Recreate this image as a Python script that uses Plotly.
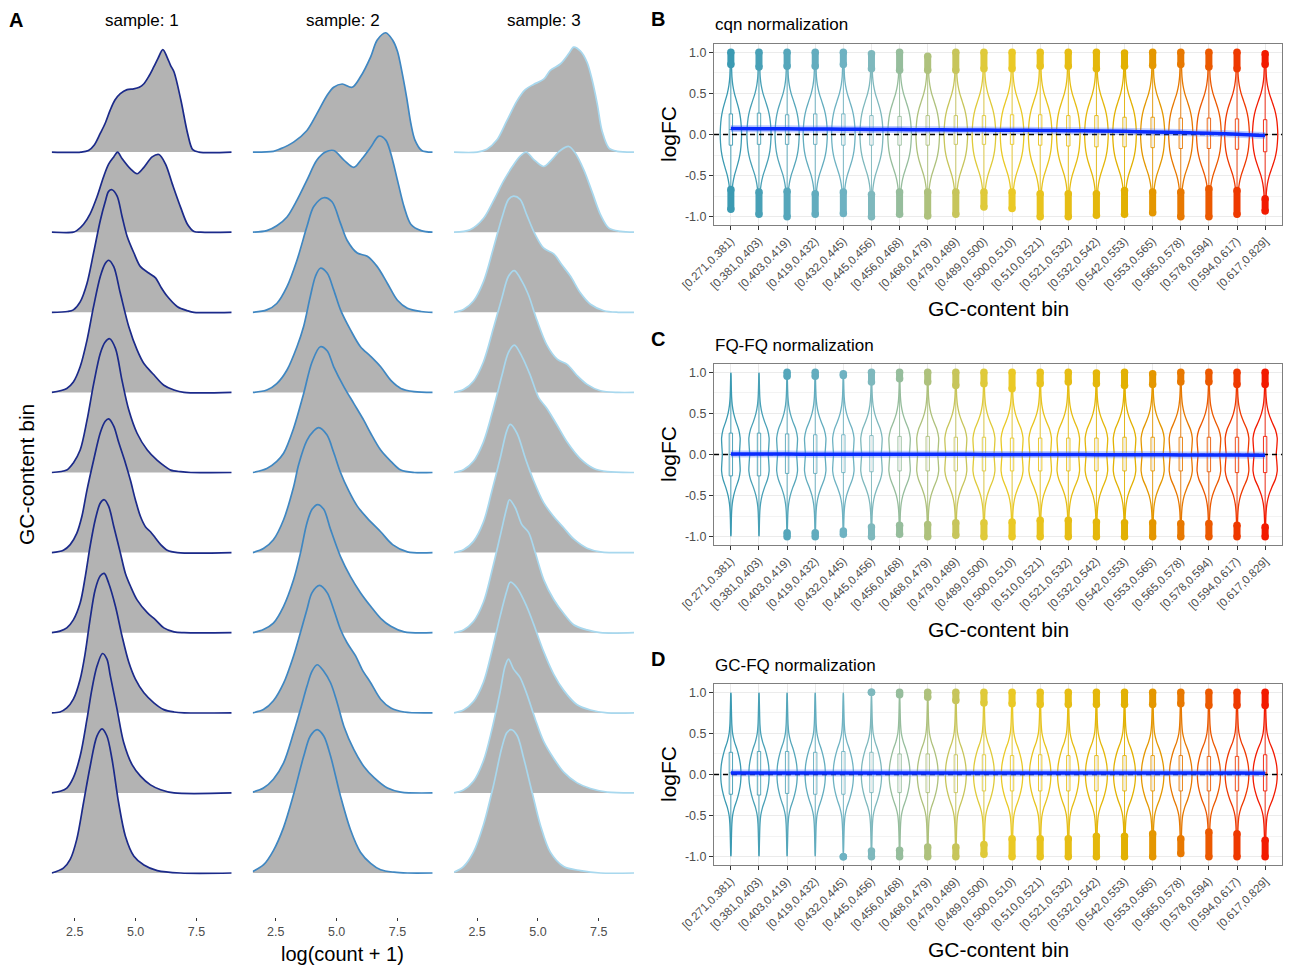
import numpy as np
import plotly.graph_objects as go

PAGE_OFF = 8                      # browser body margin
FIG_W, FIG_H = 1300 - PAGE_OFF, 967 - PAGE_OFF
FONT = "Liberation Sans, Arial, Helvetica, sans-serif"


def fx(px):
    return (px - PAGE_OFF) / FIG_W


def fy(py):
    return 1 - (py - PAGE_OFF) / FIG_H


# ---------------------------------------------------------------- Panel A data
A_SAMPLES = ["sample: 1", "sample: 2", "sample: 3"]
A_LINE_COLORS = ["#1b2a8a", "#3f87c2", "#a8d8ee"]
A_FILL = "#b3b3b3"
A_X_RANGE = [1.55, 8.95]
A_TICKS = [2.5, 5.0, 7.5]
A_TICKTEXT = ["2.5", "5.0", "7.5"]

# density ridges, row 0 = bottom ridge ... row 9 = top ridge
# (x = log(count+1), h = ridge height in units of ridge spacing)
S1_CURVES = [
    ([1.55, 2.03, 2.31, 2.58, 2.86, 3.13, 3.41, 3.62, 3.82, 4.03, 4.30, 4.58, 4.93, 5.34, 5.89, 6.85, 8.95],
     [0.0, 0.06, 0.17, 0.42, 0.88, 1.33, 1.71, 1.80, 1.71, 1.42, 0.88, 0.46, 0.21, 0.10, 0.03, 0.0, 0.0]),
    ([1.55, 1.89, 2.17, 2.44, 2.72, 3.00, 3.20, 3.41, 3.64, 3.82, 3.96, 4.24, 4.51, 4.86, 5.20, 5.61, 6.03, 6.58, 8.95],
     [0.0, 0.02, 0.06, 0.19, 0.46, 0.92, 1.29, 1.58, 1.74, 1.67, 1.46, 1.04, 0.63, 0.35, 0.21, 0.10, 0.04, 0.0, 0.0]),
    ([1.55, 1.89, 2.17, 2.44, 2.72, 2.93, 3.13, 3.34, 3.55, 3.71, 3.89, 4.17, 4.44, 4.72, 4.99, 5.34, 5.75, 6.16, 6.58, 7.00, 8.95],
     [0.0, 0.01, 0.06, 0.17, 0.42, 0.75, 1.17, 1.54, 1.71, 1.74, 1.62, 1.33, 0.96, 0.63, 0.42, 0.25, 0.125, 0.04, 0.01, 0.0, 0.0]),
    ([1.55, 1.89, 2.17, 2.44, 2.72, 2.93, 3.13, 3.34, 3.55, 3.71, 3.89, 4.10, 4.37, 4.58, 4.79, 5.06, 5.48, 5.82, 6.16, 6.58, 6.99, 8.95],
     [0.0, 0.02, 0.06, 0.16, 0.37, 0.70, 1.08, 1.41, 1.62, 1.66, 1.58, 1.33, 1.00, 0.74, 0.58, 0.41, 0.25, 0.16, 0.06, 0.01, 0.0, 0.0]),
    ([1.55, 2.03, 2.31, 2.58, 2.79, 3.00, 3.27, 3.55, 3.75, 3.89, 4.10, 4.30, 4.58, 4.79, 4.99, 5.20, 5.41, 5.61, 5.82, 6.03, 6.30, 6.72, 8.95],
     [0.0, 0.03, 0.10, 0.24, 0.45, 0.78, 1.15, 1.50, 1.64, 1.67, 1.58, 1.38, 1.12, 0.90, 0.66, 0.45, 0.32, 0.26, 0.18, 0.10, 0.03, 0.0, 0.0]),
    ([1.55, 2.17, 2.44, 2.72, 3.00, 3.27, 3.55, 3.75, 3.93, 4.17, 4.44, 4.72, 5.06, 5.48, 5.89, 6.23, 6.44, 6.85, 7.27, 8.95],
     [0.0, 0.03, 0.12, 0.28, 0.65, 1.10, 1.49, 1.63, 1.67, 1.55, 1.15, 0.78, 0.49, 0.28, 0.15, 0.07, 0.03, 0.01, 0.0, 0.0]),
    ([1.55, 2.17, 2.44, 2.72, 3.00, 3.27, 3.55, 3.75, 3.89, 4.10, 4.37, 4.72, 5.06, 5.34, 5.75, 6.16, 6.58, 6.99, 8.95],
     [0.0, 0.05, 0.13, 0.32, 0.65, 1.07, 1.45, 1.61, 1.65, 1.57, 1.24, 0.82, 0.53, 0.36, 0.22, 0.09, 0.03, 0.0, 0.0]),
    ([1.55, 2.20, 2.44, 2.72, 3.00, 3.27, 3.55, 3.75, 3.89, 4.03, 4.24, 4.44, 4.65, 4.93, 5.20, 5.54, 5.82, 6.03, 6.30, 6.72, 7.13, 7.40, 8.95],
     [0.0, 0.01, 0.03, 0.13, 0.36, 0.74, 1.15, 1.38, 1.51, 1.53, 1.45, 1.20, 0.95, 0.74, 0.57, 0.49, 0.43, 0.32, 0.20, 0.07, 0.02, 0.0, 0.0]),
    ([1.55, 2.44, 2.58, 2.86, 3.13, 3.41, 3.68, 3.89, 4.10, 4.26, 4.44, 4.79, 5.06, 5.34, 5.68, 5.96, 6.23, 6.51, 6.85, 7.13, 7.40, 7.68, 8.95],
     [0.0, 0.0, 0.02, 0.10, 0.23, 0.44, 0.69, 0.85, 0.94, 1.00, 0.92, 0.79, 0.73, 0.81, 0.94, 0.97, 0.85, 0.60, 0.31, 0.10, 0.01, 0.0, 0.0]),
    ([1.55, 2.75, 3.06, 3.30, 3.54, 3.75, 3.95, 4.15, 4.37, 4.65, 4.92, 5.15, 5.33, 5.55, 5.74, 5.92, 6.12, 6.30, 6.44, 6.58, 6.86, 7.14, 7.35, 7.60, 8.95],
     [0.0, 0.0, 0.02, 0.09, 0.23, 0.36, 0.52, 0.65, 0.73, 0.78, 0.79, 0.81, 0.85, 0.95, 1.06, 1.17, 1.28, 1.18, 1.08, 1.00, 0.65, 0.23, 0.03, 0.0, 0.0]),
]

S2_CURVES = [
    ([1.55, 1.99, 2.40, 2.82, 3.23, 3.64, 3.92, 4.20, 4.47, 4.75, 5.16, 5.57, 5.98, 6.40, 6.81, 7.36, 7.91, 8.95],
     [0.02, 0.10, 0.28, 0.57, 0.98, 1.45, 1.71, 1.79, 1.71, 1.46, 0.96, 0.54, 0.26, 0.12, 0.04, 0.01, 0.0, 0.0]),
    ([1.55, 1.99, 2.40, 2.82, 3.23, 3.51, 3.78, 3.99, 4.20, 4.47, 4.75, 5.02, 5.30, 5.71, 6.12, 6.54, 7.09, 7.64, 8.95],
     [0.01, 0.06, 0.17, 0.375, 0.75, 1.04, 1.33, 1.52, 1.60, 1.52, 1.375, 1.13, 0.83, 0.54, 0.33, 0.19, 0.06, 0.01, 0.0]),
    ([1.55, 1.99, 2.40, 2.82, 3.23, 3.51, 3.78, 3.99, 4.30, 4.61, 4.88, 5.16, 5.43, 5.78, 6.05, 6.40, 6.81, 7.23, 7.78, 8.95],
     [0.0, 0.04, 0.15, 0.37, 0.71, 1.00, 1.29, 1.50, 1.59, 1.50, 1.29, 1.04, 0.875, 0.71, 0.54, 0.375, 0.17, 0.06, 0.01, 0.0]),
    ([1.55, 1.99, 2.40, 2.82, 3.23, 3.51, 3.78, 3.99, 4.22, 4.47, 4.75, 5.16, 5.57, 5.98, 6.40, 6.81, 7.23, 7.78, 8.95],
     [0.0, 0.04, 0.12, 0.33, 0.66, 0.99, 1.37, 1.54, 1.60, 1.54, 1.29, 0.95, 0.70, 0.50, 0.33, 0.18, 0.08, 0.01, 0.0]),
    ([1.55, 1.99, 2.40, 2.82, 3.23, 3.44, 3.78, 4.06, 4.26, 4.60, 4.88, 5.16, 5.50, 5.85, 6.26, 6.81, 7.30, 7.91, 8.95],
     [0.0, 0.05, 0.16, 0.41, 0.82, 1.10, 1.40, 1.52, 1.56, 1.47, 1.25, 1.00, 0.77, 0.58, 0.43, 0.26, 0.10, 0.01, 0.0]),
    ([1.55, 2.13, 2.54, 2.82, 3.23, 3.64, 3.99, 4.33, 4.61, 4.88, 5.30, 5.71, 6.12, 6.40, 6.81, 7.23, 7.64, 8.20, 8.95],
     [0.0, 0.05, 0.14, 0.24, 0.55, 0.98, 1.38, 1.57, 1.52, 1.32, 1.07, 0.86, 0.65, 0.49, 0.28, 0.14, 0.03, 0.0, 0.0]),
    ([1.55, 2.13, 2.54, 2.96, 3.37, 3.64, 3.92, 4.13, 4.33, 4.61, 4.88, 5.16, 5.57, 5.98, 6.40, 6.81, 7.23, 7.64, 8.19, 8.95],
     [0.0, 0.03, 0.11, 0.28, 0.57, 0.82, 1.20, 1.45, 1.55, 1.49, 1.28, 1.03, 0.78, 0.57, 0.45, 0.32, 0.15, 0.05, 0.01, 0.0]),
    ([1.55, 2.13, 2.54, 2.96, 3.37, 3.78, 4.06, 4.47, 4.81, 5.16, 5.43, 5.85, 6.26, 6.67, 7.09, 7.50, 7.91, 8.47, 8.95],
     [0.0, 0.03, 0.11, 0.32, 0.65, 1.07, 1.32, 1.43, 1.38, 1.11, 0.90, 0.74, 0.70, 0.57, 0.36, 0.15, 0.05, 0.01, 0.0]),
    ([1.55, 2.13, 2.54, 2.96, 3.37, 3.78, 4.19, 4.54, 4.88, 5.30, 5.71, 6.05, 6.40, 6.74, 7.02, 7.23, 7.50, 7.78, 8.05, 8.47, 8.95],
     [0.0, 0.02, 0.08, 0.19, 0.40, 0.65, 0.90, 1.00, 1.02, 0.90, 0.81, 0.92, 1.06, 1.20, 1.15, 0.98, 0.65, 0.31, 0.10, 0.02, 0.0]),
    ([1.55, 2.40, 2.68, 3.23, 3.78, 4.19, 4.61, 4.88, 5.23, 5.64, 5.98, 6.40, 6.67, 7.02, 7.30, 7.50, 7.70, 7.88, 8.05, 8.22, 8.50, 8.95],
     [0.0, 0.01, 0.04, 0.125, 0.27, 0.48, 0.71, 0.81, 0.85, 0.81, 0.94, 1.19, 1.40, 1.49, 1.40, 1.26, 0.98, 0.68, 0.36, 0.15, 0.02, 0.0]),
]

S3_CURVES = [
    ([1.55, 1.94, 2.35, 2.76, 3.17, 3.52, 3.72, 3.89, 4.14, 4.41, 4.75, 5.10, 5.51, 6.06, 6.75, 7.57, 8.95],
     [0.01, 0.08, 0.26, 0.60, 1.09, 1.57, 1.75, 1.79, 1.72, 1.44, 1.02, 0.60, 0.26, 0.08, 0.03, 0.0, 0.0]),
    ([1.55, 1.94, 2.35, 2.76, 3.10, 3.45, 3.65, 3.79, 4.00, 4.27, 4.55, 4.89, 5.24, 5.65, 6.06, 6.61, 7.16, 7.85, 8.95],
     [0.0, 0.035, 0.145, 0.40, 0.78, 1.27, 1.58, 1.67, 1.545, 1.44, 1.23, 0.92, 0.64, 0.43, 0.26, 0.125, 0.055, 0.01, 0.0]),
    ([1.55, 1.94, 2.35, 2.76, 3.10, 3.45, 3.72, 3.86, 4.14, 4.55, 4.82, 5.24, 5.65, 6.06, 6.61, 7.16, 7.85, 8.95],
     [0.0, 0.035, 0.14, 0.38, 0.76, 1.21, 1.52, 1.63, 1.56, 1.32, 1.11, 0.76, 0.48, 0.28, 0.10, 0.035, 0.0, 0.0]),
    ([1.55, 1.94, 2.35, 2.76, 3.10, 3.45, 3.72, 3.83, 4.07, 4.34, 4.62, 4.89, 5.24, 5.65, 6.06, 6.47, 7.02, 7.57, 8.95],
     [0.0, 0.035, 0.14, 0.38, 0.76, 1.21, 1.56, 1.66, 1.56, 1.35, 1.25, 1.00, 0.66, 0.415, 0.24, 0.10, 0.035, 0.0, 0.0]),
    ([1.55, 1.94, 2.35, 2.76, 3.10, 3.45, 3.72, 3.86, 4.14, 4.48, 4.82, 5.24, 5.65, 6.06, 6.47, 7.02, 7.57, 8.95],
     [0.0, 0.035, 0.14, 0.38, 0.76, 1.18, 1.52, 1.60, 1.49, 1.18, 0.90, 0.62, 0.45, 0.31, 0.17, 0.055, 0.01, 0.0]),
    ([1.55, 1.94, 2.35, 2.76, 3.17, 3.52, 3.79, 4.03, 4.34, 4.69, 5.03, 5.37, 5.79, 6.20, 6.75, 7.30, 7.85, 8.95],
     [0.0, 0.035, 0.14, 0.38, 0.80, 1.21, 1.50, 1.59, 1.45, 1.21, 0.935, 0.80, 0.59, 0.38, 0.17, 0.05, 0.01, 0.0]),
    ([1.55, 1.94, 2.35, 2.76, 3.17, 3.52, 3.79, 4.03, 4.34, 4.62, 4.96, 5.37, 5.79, 6.20, 6.61, 7.02, 7.57, 8.30, 8.95],
     [0.0, 0.035, 0.14, 0.38, 0.80, 1.18, 1.45, 1.52, 1.39, 1.21, 0.90, 0.59, 0.415, 0.35, 0.21, 0.10, 0.02, 0.0, 0.0]),
    ([1.55, 1.94, 2.35, 2.76, 3.17, 3.52, 3.79, 4.00, 4.27, 4.55, 4.89, 5.24, 5.65, 5.99, 6.34, 6.75, 7.16, 7.71, 8.30, 8.95],
     [0.0, 0.035, 0.14, 0.38, 0.80, 1.18, 1.41, 1.45, 1.41, 1.21, 0.97, 0.80, 0.73, 0.59, 0.45, 0.24, 0.10, 0.02, 0.0, 0.0]),
    ([1.55, 2.21, 2.76, 3.17, 3.59, 3.93, 4.27, 4.52, 4.82, 5.24, 5.58, 5.92, 6.27, 6.54, 6.89, 7.23, 7.57, 7.92, 8.40, 8.95],
     [0.0, 0.03, 0.17, 0.39, 0.64, 0.81, 0.95, 1.00, 0.91, 0.82, 0.91, 1.02, 1.07, 0.985, 0.775, 0.50, 0.22, 0.05, 0.01, 0.0]),
    ([1.55, 2.50, 2.90, 3.31, 3.72, 4.14, 4.48, 4.82, 5.24, 5.51, 5.92, 6.27, 6.47, 6.75, 7.02, 7.23, 7.44, 7.64, 7.92, 8.26, 8.95],
     [0.0, 0.0, 0.035, 0.15, 0.39, 0.64, 0.78, 0.845, 0.91, 1.02, 1.10, 1.23, 1.31, 1.26, 1.12, 0.90, 0.60, 0.26, 0.05, 0.01, 0.0]),
]

# ---------------------------------------------------------------- Panels B-D data
BIN_LABELS = ["[0.271,0.381)", "[0.381,0.403)", "[0.403,0.419)", "[0.419,0.432)",
              "[0.432,0.445)", "[0.445,0.456)", "[0.456,0.468)", "[0.468,0.479)",
              "[0.479,0.489)", "[0.489,0.500)", "[0.500,0.510)", "[0.510,0.521)",
              "[0.521,0.532)", "[0.532,0.542)", "[0.542,0.553)", "[0.553,0.565)",
              "[0.565,0.578)", "[0.578,0.594)", "[0.594,0.617)", "[0.617,0.829]"]
ZISSOU = ["#3B9AB2", "#78B7C5", "#EBCC2A", "#E1AF00", "#F21A00"]

# violin profile (relative half width vs logFC)
PROF_Y = [-1.0, -0.9, -0.8, -0.7, -0.6, -0.5, -0.4, -0.3, -0.2, -0.1, 0.0,
          0.1, 0.2, 0.3, 0.4, 0.5, 0.6, 0.7, 0.8, 0.9, 1.0]
B_PROF = [0.02, 0.05, 0.07, 0.10, 0.18, 0.33, 0.55, 0.76, 0.90, 0.97, 1.0,
          0.97, 0.90, 0.76, 0.55, 0.33, 0.18, 0.10, 0.07, 0.05, 0.02]
C_PROF = [0.0, 0.03, 0.05, 0.08, 0.15, 0.30, 0.55, 0.85, 1.0, 0.97, 0.92,
          0.97, 1.0, 0.85, 0.55, 0.30, 0.15, 0.08, 0.05, 0.03, 0.0]
D_PROF = [0.0, 0.03, 0.05, 0.07, 0.10, 0.17, 0.35, 0.62, 0.83, 0.96, 1.0,
          0.96, 0.83, 0.62, 0.35, 0.17, 0.10, 0.07, 0.05, 0.03, 0.0]

B_WIDTH = [0.38, 0.43, 0.43, 0.43, 0.42, 0.41, 0.42, 0.42, 0.42, 0.42,
           0.42, 0.42, 0.42, 0.42, 0.42, 0.43, 0.43, 0.44, 0.44, 0.45]
C_WIDTH = [0.33, 0.36, 0.37, 0.38, 0.38, 0.38, 0.38, 0.39, 0.39, 0.39,
           0.39, 0.40, 0.40, 0.40, 0.40, 0.41, 0.41, 0.42, 0.42, 0.43]
D_WIDTH = [0.36, 0.36, 0.36, 0.36, 0.36, 0.36, 0.37, 0.37, 0.37, 0.37,
           0.38, 0.38, 0.38, 0.39, 0.39, 0.40, 0.40, 0.41, 0.42, 0.43]

B_Q1 = [-0.13, -0.12, -0.12, -0.12, -0.13, -0.13, -0.13, -0.13, -0.12, -0.12,
        -0.12, -0.13, -0.14, -0.15, -0.15, -0.16, -0.17, -0.17, -0.18, -0.21]
B_Q3 = [0.25, 0.26, 0.24, 0.25, 0.25, 0.23, 0.22, 0.23, 0.23, 0.23,
        0.24, 0.24, 0.23, 0.23, 0.21, 0.21, 0.20, 0.20, 0.19, 0.18]
B_MED = [0.06, 0.06, 0.06, 0.06, 0.06, 0.05, 0.05, 0.05, 0.05, 0.05,
         0.05, 0.05, 0.04, 0.04, 0.03, 0.03, 0.02, 0.02, 0.01, -0.01]
C_Q1 = [-0.26, -0.26, -0.23, -0.23, -0.22, -0.21, -0.20, -0.20, -0.20, -0.20,
        -0.20, -0.20, -0.20, -0.20, -0.20, -0.20, -0.20, -0.21, -0.22, -0.22]
C_Q3 = [0.26, 0.26, 0.25, 0.24, 0.24, 0.23, 0.22, 0.22, 0.21, 0.21,
        0.20, 0.20, 0.20, 0.20, 0.21, 0.21, 0.21, 0.21, 0.21, 0.22]
C_MED = [0.0, 0.0, 0.0, 0.0, 0.0, 0.0, 0.0, 0.0, 0.0, 0.0,
         0.0, 0.0, 0.0, 0.0, 0.0, 0.0, 0.0, 0.0, 0.0, 0.0]
D_Q1 = [-0.24, -0.25, -0.23, -0.24, -0.24, -0.22, -0.22, -0.22, -0.22, -0.20,
        -0.20, -0.20, -0.20, -0.20, -0.20, -0.20, -0.20, -0.20, -0.20, -0.20]
D_Q3 = [0.27, 0.28, 0.28, 0.27, 0.28, 0.27, 0.25, 0.25, 0.24, 0.24,
        0.23, 0.24, 0.23, 0.23, 0.23, 0.23, 0.23, 0.22, 0.22, 0.24]
D_MED = [0.02, 0.02, 0.02, 0.02, 0.02, 0.02, 0.02, 0.02, 0.02, 0.02,
         0.02, 0.02, 0.02, 0.02, 0.02, 0.02, 0.02, 0.02, 0.02, 0.02]

# outlier ranges [low, high] above and below the whiskers (None = no outliers)
B_TOP_OUT = [[0.85, 1.0], [0.82, 1.0], [0.83, 1.0], [0.83, 1.0], [0.85, 1.0],
             [0.80, 0.98], [0.78, 1.0], [0.78, 0.95], [0.78, 1.0], [0.80, 1.0],
             [0.80, 1.0], [0.83, 1.0], [0.83, 1.0], [0.80, 1.0], [0.83, 0.99],
             [0.84, 1.0], [0.85, 1.0], [0.82, 1.0], [0.80, 1.0], [0.85, 0.98]]
B_BOT_OUT = [[-0.91, -0.67], [-0.97, -0.70], [-1.0, -0.69], [-0.97, -0.72], [-0.96, -0.70],
             [-1.0, -0.73], [-0.97, -0.70], [-0.99, -0.70], [-0.97, -0.70], [-0.88, -0.70],
             [-0.90, -0.70], [-1.0, -0.72], [-1.0, -0.72], [-0.98, -0.72], [-0.97, -0.68],
             [-0.95, -0.70], [-1.0, -0.70], [-1.0, -0.66], [-0.97, -0.68], [-0.93, -0.78]]
C_TOP_OUT = [None, None, [0.95, 1.0], [0.95, 1.0], [0.96, 0.98], [0.88, 1.0], [0.92, 1.0],
             [0.88, 1.0], [0.84, 1.0], [0.86, 1.0], [0.80, 1.0], [0.86, 1.0], [0.88, 1.0],
             [0.86, 0.99], [0.84, 1.0], [0.85, 0.98], [0.88, 1.0], [0.88, 1.0], [0.85, 1.0],
             [0.85, 1.0]]
C_BOT_OUT = [None, None, [-1.0, -0.95], [-1.0, -0.95], [-0.97, -0.93], [-1.0, -0.88],
             [-0.97, -0.86], [-1.0, -0.85], [-0.98, -0.83], [-1.0, -0.83], [-1.0, -0.82],
             [-1.0, -0.80], [-1.0, -0.80], [-1.0, -0.82], [-1.0, -0.83], [-1.0, -0.83],
             [-1.0, -0.84], [-1.0, -0.84], [-1.0, -0.86], [-1.0, -0.88]]
D_TOP_OUT = [None, None, None, None, None, [1.0, 1.0], [0.97, 1.0], [0.94, 1.0], [0.90, 1.0],
             [0.87, 1.0], [0.86, 1.0], [0.85, 1.0], [0.85, 1.0], [0.85, 1.0], [0.85, 1.0],
             [0.85, 1.0], [0.86, 1.0], [0.84, 1.0], [0.84, 1.0], [0.84, 1.0]]
D_BOT_OUT = [None, None, None, None, [-1.0, -1.0], [-1.0, -0.93], [-1.0, -0.92], [-1.0, -0.88],
             [-1.0, -0.88], [-0.97, -0.85], [-1.0, -0.78], [-1.0, -0.78], [-1.0, -0.78],
             [-1.0, -0.75], [-1.0, -0.75], [-1.0, -0.72], [-0.96, -0.78], [-1.0, -0.70],
             [-1.0, -0.72], [-1.0, -0.80]]

# loess trend of logFC across GC bins
B_TREND = [0.073, 0.071, 0.069, 0.067, 0.065, 0.062, 0.060, 0.058, 0.056, 0.054,
           0.052, 0.050, 0.047, 0.043, 0.038, 0.031, 0.024, 0.015, 0.004, -0.012]
C_TREND = [0.006, 0.005, 0.005, 0.004, 0.004, 0.003, 0.003, 0.002, 0.002, 0.001,
           0.0, 0.0, -0.001, -0.002, -0.003, -0.004, -0.005, -0.006, -0.007, -0.008]
D_TREND = [0.017, 0.017, 0.017, 0.017, 0.017, 0.017, 0.017, 0.017, 0.017, 0.017,
           0.017, 0.017, 0.017, 0.017, 0.017, 0.017, 0.017, 0.017, 0.017, 0.016]

PANELS = [
    dict(letter="B", title="cqn normalization", top=44, bottom=225, prof=B_PROF, width=B_WIDTH,
         q1=B_Q1, q3=B_Q3, med=B_MED, top_out=B_TOP_OUT, bot_out=B_BOT_OUT, trend=B_TREND),
    dict(letter="C", title="FQ-FQ normalization", top=364, bottom=545, prof=C_PROF, width=C_WIDTH,
         q1=C_Q1, q3=C_Q3, med=C_MED, top_out=C_TOP_OUT, bot_out=C_BOT_OUT, trend=C_TREND),
    dict(letter="D", title="GC-FQ normalization", top=684, bottom=865, prof=D_PROF, width=D_WIDTH,
         q1=D_Q1, q3=D_Q3, med=D_MED, top_out=D_TOP_OUT, bot_out=D_BOT_OUT, trend=D_TREND),
]


def ramp(colors, n):
    anchors = np.array([[int(c[i:i + 2], 16) for i in (1, 3, 5)] for c in colors], float)
    pos = np.linspace(0, 1, len(colors))
    out = []
    for t in np.linspace(0, 1, n):
        rgb = [int(round(np.interp(t, pos, anchors[:, k]))) for k in range(3)]
        out.append("#%02x%02x%02x" % tuple(rgb))
    return out


BIN_COLORS = ramp(ZISSOU, len(BIN_LABELS))

fig = go.Figure()
layout = dict(
    width=FIG_W, height=FIG_H, margin=dict(l=0, r=0, t=0, b=0, pad=0, autoexpand=False),
    paper_bgcolor="white", plot_bgcolor="white", showlegend=False,
    font=dict(family=FONT, color="#000000"),
)

# ---------------------------------------------------------------- Panel A
A_COL_PX = [(51.7, 231.7), (252.7, 432.7), (454.0, 634.0)]
A_TOP_PX, A_BOT_PX, A_BASE0_PX, A_ROW_PX = 30.0, 917.0, 873.0, 80.1
a_yrange = [-(A_BOT_PX - A_BASE0_PX) / A_ROW_PX, (A_BASE0_PX - A_TOP_PX) / A_ROW_PX]

for c, (curves, color) in enumerate(zip([S1_CURVES, S2_CURVES, S3_CURVES], A_LINE_COLORS)):
    n = c + 1
    xa = "x" if n == 1 else "x%d" % n
    ya = "y" if n == 1 else "y%d" % n
    layout["xaxis" if n == 1 else "xaxis%d" % n] = dict(
        domain=[fx(A_COL_PX[c][0]), fx(A_COL_PX[c][1])], range=A_X_RANGE, anchor=ya,
        tickvals=A_TICKS, ticktext=A_TICKTEXT, ticks="outside", ticklen=3, tickwidth=1,
        tickcolor="#333333", tickfont=dict(size=12.5, color="#4d4d4d", family=FONT),
        showgrid=False, zeroline=False, showline=False, automargin=False)
    layout["yaxis" if n == 1 else "yaxis%d" % n] = dict(
        domain=[fy(A_BOT_PX), fy(A_TOP_PX)], range=a_yrange, anchor=xa,
        showticklabels=False, ticks="", showgrid=False, zeroline=False, showline=False,
        automargin=False)
    for k in range(len(curves) - 1, -1, -1):
        xs, hs = curves[k]
        fig.add_trace(go.Scatter(x=[xs[0], xs[-1]], y=[k, k], mode="lines",
                                 line=dict(width=0, color=color), xaxis=xa, yaxis=ya,
                                 hoverinfo="skip"))
        fig.add_trace(go.Scatter(x=xs, y=[k + h for h in hs], mode="lines", fill="tonexty",
                                 fillcolor=A_FILL,
                                 line=dict(color=color, width=1.7, shape="spline", smoothing=0.9),
                                 xaxis=xa, yaxis=ya, hoverinfo="skip"))

# ---------------------------------------------------------------- Panels B-D
P_LEFT, P_RIGHT = 714.0, 1282.0
nb = len(BIN_LABELS)
for p, P in enumerate(PANELS):
    n = 4 + p
    xa, ya = "x%d" % n, "y%d" % n
    layout["xaxis%d" % n] = dict(
        domain=[fx(P_LEFT), fx(P_RIGHT)], range=[-0.6, nb - 1 + 0.6], anchor=ya,
        tickvals=list(range(nb)), ticktext=BIN_LABELS, tickangle=-45,
        tickfont=dict(size=11.5, color="#4d4d4d", family=FONT), ticks="outside", ticklen=4,
        tickcolor="#333333", showgrid=True, gridcolor="#ebebeb", gridwidth=1,
        showline=True, linecolor="#7f7f7f", linewidth=1, mirror=True, zeroline=False,
        automargin=False)
    layout["yaxis%d" % n] = dict(
        domain=[fy(P["bottom"]), fy(P["top"])], range=[-1.1, 1.1], anchor=xa,
        tickvals=[-1.0, -0.5, 0.0, 0.5, 1.0], ticktext=["-1.0", "-0.5", "0.0", "0.5", "1.0"],
        tickfont=dict(size=12.5, color="#4d4d4d", family=FONT), ticks="outside", ticklen=4,
        tickcolor="#333333", showgrid=True, gridcolor="#ebebeb", gridwidth=1,
        minor=dict(tickvals=[-0.75, -0.25, 0.25, 0.75], showgrid=True, gridcolor="#f3f3f3",
                   gridwidth=0.8, ticks=""),
        showline=True, linecolor="#7f7f7f", linewidth=1, mirror=True, zeroline=False,
        automargin=False)

    for i in range(nb):
        col = BIN_COLORS[i]
        w = P["width"][i]
        tout, bout = P["top_out"][i], P["bot_out"][i]
        vmax = tout[1] if tout else 0.99
        vmin = bout[0] if bout else -0.99
        ys = [vmin] + [y for y in PROF_Y if vmin < y < vmax] + [vmax]
        rel = np.interp(ys, PROF_Y, P["prof"])
        vx = [i + w * r for r in rel] + [i - w * r for r in rel[::-1]] + [i + w * rel[0]]
        vy = ys + ys[::-1] + [ys[0]]
        fig.add_trace(go.Scatter(x=vx, y=vy, mode="lines",
                                 line=dict(color=col, width=1.3, shape="spline", smoothing=0.8),
                                 xaxis=xa, yaxis=ya, hoverinfo="skip"))
        # box + whiskers + median
        bw = 0.06
        q1, q3, md = P["q1"][i], P["q3"][i], P["med"][i]
        wt = tout[0] if tout else vmax
        wb = bout[1] if bout else vmin
        bx = [i - bw, i + bw, i + bw, i - bw, i - bw, None, i, i, None, i, i, None, i - bw, i + bw]
        by = [q1, q1, q3, q3, q1, None, q3, wt, None, q1, wb, None, md, md]
        fig.add_trace(go.Scatter(x=bx, y=by, mode="lines", line=dict(color=col, width=0.9),
                                 xaxis=xa, yaxis=ya, hoverinfo="skip"))
        # outliers
        for rng in (tout, bout):
            if rng:
                fig.add_trace(go.Scatter(x=[i, i], y=rng, mode="lines+markers",
                                         line=dict(color=col, width=7),
                                         marker=dict(color=col, size=7.5),
                                         xaxis=xa, yaxis=ya, hoverinfo="skip"))
    # dashed zero line
    fig.add_trace(go.Scatter(x=[-0.6, nb - 1 + 0.6], y=[0, 0], mode="lines",
                             line=dict(color="black", width=1.4, dash="5px,4px"),
                             xaxis=xa, yaxis=ya, hoverinfo="skip"))
    # loess trend
    fig.add_trace(go.Scatter(x=list(range(nb)), y=P["trend"], mode="lines",
                             line=dict(color="rgba(70,110,255,0.35)", width=7, shape="spline"),
                             xaxis=xa, yaxis=ya, hoverinfo="skip"))
    fig.add_trace(go.Scatter(x=list(range(nb)), y=P["trend"], mode="lines",
                             line=dict(color="#0a2cff", width=3.5, shape="spline"),
                             xaxis=xa, yaxis=ya, hoverinfo="skip"))

# ---------------------------------------------------------------- text
ann = []


def add_text(text, px, py, size, angle=0, xanchor="center", bold=False):
    ann.append(dict(text="<b>%s</b>" % text if bold else text, x=fx(px), y=fy(py),
                    xref="paper", yref="paper", xanchor=xanchor, yanchor="middle",
                    textangle=angle, showarrow=False,
                    font=dict(size=size, family=FONT, color="#000000")))


add_text("A", 16, 20, 20, bold=True)
for c, name in enumerate(A_SAMPLES):
    add_text(name, (A_COL_PX[c][0] + A_COL_PX[c][1]) / 2, 21, 17)
add_text("GC-content bin", 27, 475, 21, angle=-90)
add_text("log(count + 1)", 342, 954, 20)

for p, P in enumerate(PANELS):
    off = 320 * p
    add_text(P["letter"], 658, 19 + off, 20, bold=True)
    add_text(P["title"], 713, 25 + off, 17, xanchor="left")
    add_text("logFC", 668, 134 + off, 21, angle=-90)
    add_text("GC-content bin", (P_LEFT + P_RIGHT) / 2, 309 + off, 21)

layout["annotations"] = ann
fig.update_layout(**layout)
fig.write_html("out.html")
